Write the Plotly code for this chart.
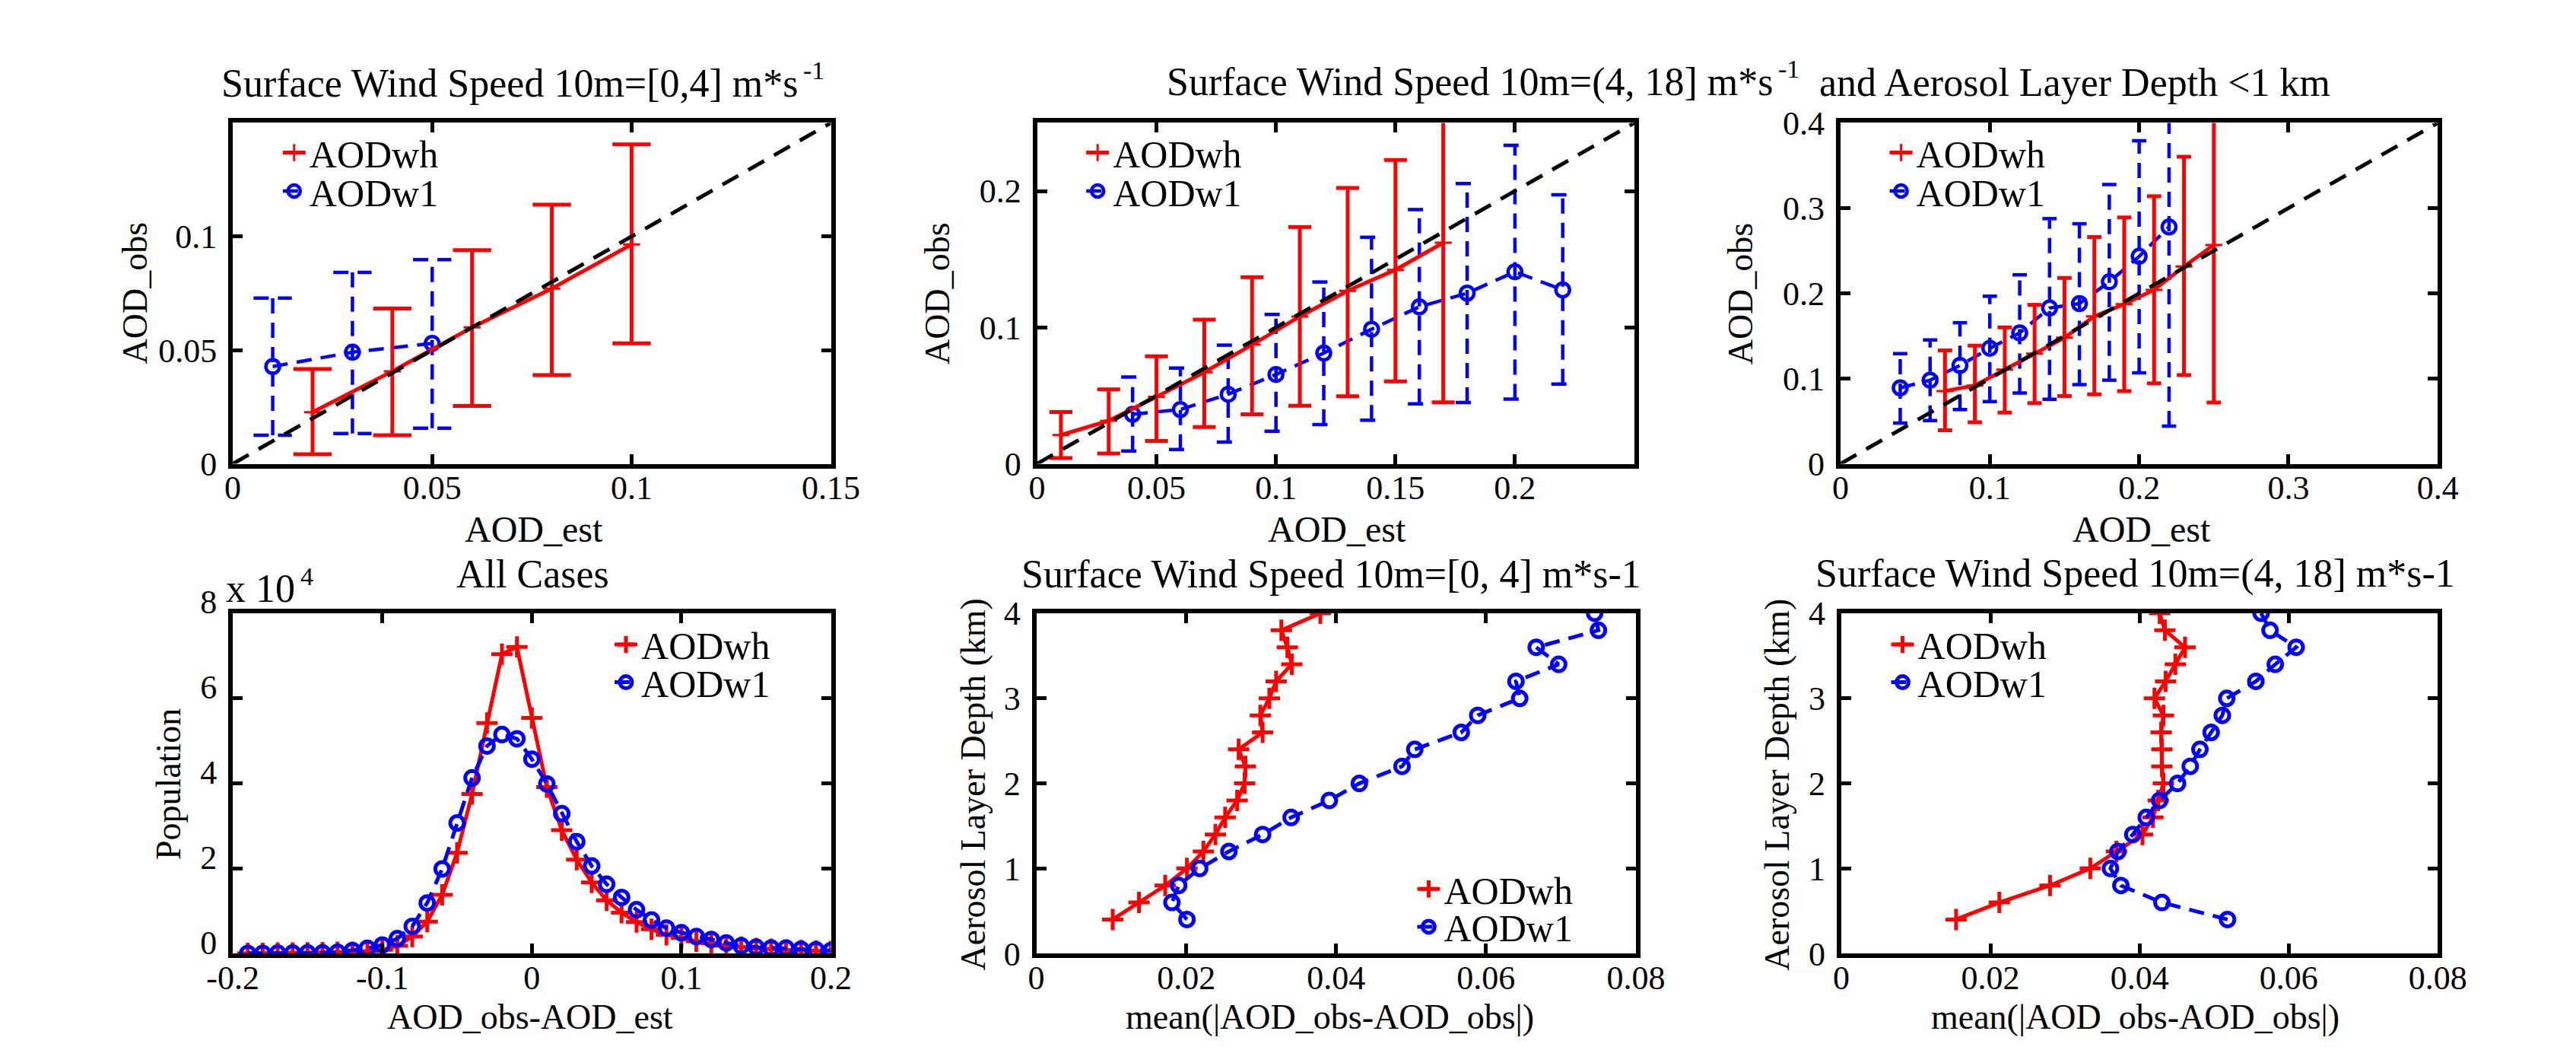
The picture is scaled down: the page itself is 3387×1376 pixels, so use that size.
import plotly.graph_objects as go

W, H = 3387, 1376
FONT = "Liberation Serif, Times New Roman, serif"
RED = "#ff0000"
BLUE = "#0000ff"
TICK_SIZE = 44
XLABEL_SIZE = 48
XLABEL2_SIZE = 46
YLABEL_SIZE = 46
TITLE_SIZE = 52
SUP_SIZE = 34
LEG_SIZE = 50

# ---------------- data ----------------
# Panel 1: wind speed [0,4]
p1_wh_x = [0.02, 0.04, 0.06, 0.08, 0.10]
p1_wh_mean = [0.0227, 0.0407, 0.0600, 0.0771, 0.0965]
p1_wh_lo = [0.0042, 0.0126, 0.0255, 0.0390, 0.0530]
p1_wh_hi = [0.0417, 0.0683, 0.0940, 0.1140, 0.1405]
p1_w1_x = [0.01, 0.03, 0.05]
p1_w1_mean = [0.0428, 0.0491, 0.0530]
p1_w1_lo = [0.0126, 0.0133, 0.0157]
p1_w1_hi = [0.0729, 0.0842, 0.0898]

# Panel 2: wind speed (4,18]
p2_wh_x = [0.01, 0.03, 0.05, 0.07, 0.09, 0.11, 0.13, 0.15, 0.17]
p2_wh_mean = [0.0211, 0.0316, 0.0491, 0.0671, 0.0873, 0.1080, 0.1268, 0.1422, 0.1621]
p2_wh_lo = [0.0042, 0.0075, 0.0168, 0.0269, 0.0363, 0.0426, 0.0496, 0.0604, 0.0451]
p2_wh_hi = [0.0379, 0.0545, 0.0788, 0.1057, 0.1368, 0.1736, 0.2023, 0.2227, 0.2800]
p2_w1_x = [0.04, 0.06, 0.08, 0.10, 0.12, 0.14, 0.16, 0.18, 0.20, 0.22]
p2_w1_mean = [0.0363, 0.0398, 0.0510, 0.0655, 0.0812, 0.0987, 0.1151, 0.1251, 0.1408, 0.1275]
p2_w1_lo = [0.0094, 0.0105, 0.0159, 0.0239, 0.0288, 0.0320, 0.0440, 0.0449, 0.0475, 0.0585]
p2_w1_hi = [0.0636, 0.0702, 0.0870, 0.1095, 0.1333, 0.1661, 0.1864, 0.2054, 0.2335, 0.1972]

# Panel 3: aerosol layer depth < 1 km
p3_wh_x = [0.07, 0.09, 0.11, 0.13, 0.15, 0.17, 0.19, 0.21, 0.23, 0.25]
p3_wh_mean = [0.0854, 0.0918, 0.1105, 0.1292, 0.1479, 0.1730, 0.1873, 0.2041, 0.2315, 0.2566]
p3_wh_lo = [0.0393, 0.0487, 0.0600, 0.0712, 0.0794, 0.0816, 0.0854, 0.0944, 0.1041, 0.0719]
p3_wh_hi = [0.1330, 0.1386, 0.1600, 0.1865, 0.2180, 0.2660, 0.2890, 0.3139, 0.3603, 0.4400]
p3_w1_x = [0.04, 0.06, 0.08, 0.10, 0.12, 0.14, 0.16, 0.18, 0.20, 0.22]
p3_w1_mean = [0.0891, 0.0981, 0.1154, 0.1356, 0.1536, 0.1828, 0.1880, 0.2135, 0.2434, 0.2779]
p3_w1_lo = [0.0479, 0.0506, 0.0637, 0.0730, 0.0831, 0.0757, 0.0929, 0.0981, 0.1067, 0.0442]
p3_w1_hi = [0.1292, 0.1453, 0.1655, 0.1966, 0.2217, 0.2876, 0.2816, 0.3277, 0.3790, 0.4200]

# Panel 4: histogram of AOD_obs - AOD_est (all cases)
p4_bins = [-0.19, -0.18, -0.17, -0.16, -0.15, -0.14, -0.13, -0.12, -0.11, -0.10,
           -0.09, -0.08, -0.07, -0.06, -0.05, -0.04, -0.03, -0.02, -0.01, 0.00,
           0.01, 0.02, 0.03, 0.04, 0.05, 0.06, 0.07, 0.08, 0.09, 0.10,
           0.11, 0.12, 0.13, 0.14, 0.15, 0.16, 0.17, 0.18, 0.19, 0.20]
p4_wh_pop = [50, 50, 100, 100, 150, 200, 300, 300, 500, 900,
             1800, 4000, 7500, 13800, 23700, 37500, 54200, 70400, 72100, 55400,
             39100, 29000, 22100, 16700, 12500, 9600, 7400, 5700, 4400, 3700,
             2900, 2400, 1800, 1500, 1200, 1000, 800, 700, 600, 500]
p4_w1_pop = [50, 50, 100, 100, 150, 150, 300, 700, 1250, 2000,
             3500, 6400, 11900, 19900, 30700, 41300, 48800, 51500, 50500, 45700,
             39900, 32900, 26300, 20600, 16300, 13200, 10300, 7900, 6000, 4900,
             4000, 3300, 2500, 1800, 1500, 1300, 1300, 1000, 900, 700]

# Panels 5 and 6: mean abs difference vs aerosol layer depth
depth_km = [0.4, 0.6, 0.8, 1.0, 1.2, 1.4, 1.6, 1.8, 2.0, 2.2,
            2.4, 2.6, 2.8, 3.0, 3.2, 3.4, 3.6, 3.8, 4.0]
p5_wh = [0.0102, 0.0137, 0.0172, 0.0201, 0.0223, 0.0239, 0.0252, 0.0268, 0.0278, 0.0279,
         0.0270, 0.0302, 0.0299, 0.0311, 0.0320, 0.0341, 0.0335, 0.0327, 0.0379]
p5_w1 = [0.0201, 0.0181, 0.0190, 0.0218, 0.0257, 0.0302, 0.0340, 0.0391, 0.0431, 0.0488,
         0.0505, 0.0567, 0.0589, 0.0645, 0.0640, 0.0697, 0.0667, 0.0750, 0.0745]
p6_wh = [0.0154, 0.0212, 0.0280, 0.0334, 0.0369, 0.0404, 0.0418, 0.0425, 0.0432, 0.0430,
         0.0430, 0.0429, 0.0432, 0.0420, 0.0435, 0.0448, 0.0461, 0.0434, 0.0427]
p6_w1 = [0.0518, 0.0430, 0.0375, 0.0361, 0.0371, 0.0391, 0.0409, 0.0427, 0.0451, 0.0468,
         0.0481, 0.0496, 0.0511, 0.0517, 0.0556, 0.0582, 0.0610, 0.0575, 0.0563]

# axis ranges and ticks
p1_range = [0, 0.15]
p2_range = [0, 0.25]
p3_range = [0, 0.4]
p4_xrange = [-0.2, 0.2]
p4_yrange = [0, 80000]
p56_xrange = [0, 0.08]
p56_yrange = [0, 4]

p1_xticks = [0, 0.05, 0.1, 0.15]; p1_xlabels = ["0", "0.05", "0.1", "0.15"]
p1_yticks = [0, 0.05, 0.1]; p1_ylabels = ["0", "0.05", "0.1"]
p2_xticks = [0, 0.05, 0.1, 0.15, 0.2]; p2_xlabels = ["0", "0.05", "0.1", "0.15", "0.2"]
p2_yticks = [0, 0.1, 0.2]; p2_ylabels = ["0", "0.1", "0.2"]
p3_ticks = [0, 0.1, 0.2, 0.3, 0.4]; p3_labels = ["0", "0.1", "0.2", "0.3", "0.4"]
p4_xticks = [-0.2, -0.1, 0, 0.1, 0.2]; p4_xlabels = ["-0.2", "-0.1", "0", "0.1", "0.2"]
p4_yticks = [0, 20000, 40000, 60000, 80000]; p4_ylabels = ["0", "2", "4", "6", "8"]
p56_xticks = [0, 0.02, 0.04, 0.06, 0.08]; p56_xlabels = ["0", "0.02", "0.04", "0.06", "0.08"]
p56_yticks = [0, 1, 2, 3, 4]; p56_ylabels = ["0", "1", "2", "3", "4"]

# ---------------- layout geometry (pixels) ----------------
BOX = {
    1: (269, 1073, 120, 590),
    2: (1350, 2153, 120, 590),
    3: (2430, 3233, 120, 590),
    4: (269, 1073, 796, 1265),
    5: (1349, 2155, 796, 1265),
    6: (2431, 3233, 796, 1265),
}


def fx(px):
    return px / W


def fy(py):
    return 1 - py / H


def err_segments(xs, lo, hi, cap):
    X, Y = [], []
    for x, l, h in zip(xs, lo, hi):
        X += [x, x, None, x - cap, x + cap, None, x - cap, x + cap, None]
        Y += [l, h, None, l, l, None, h, h, None]
    return X, Y


fig = go.Figure()

CAP = 0.0048
BLUE_DASH = "20px,12px"
DIAG_DASH = "24px,15px"


def add_scatter_panel(i, wh_x, wh_m, wh_lo, wh_hi, w1_x, w1_m, w1_lo, w1_hi, rng, leg_wh, leg_w1):
    xa = "x" if i == 1 else f"x{i}"
    ya = "y" if i == 1 else f"y{i}"
    # blue dashed error bars
    ex, ey = err_segments(w1_x, w1_lo, w1_hi, CAP)
    fig.add_trace(go.Scatter(x=ex, y=ey, mode="lines", xaxis=xa, yaxis=ya, showlegend=False,
                             line=dict(color=BLUE, width=4.5, dash=BLUE_DASH), hoverinfo="skip"))
    fig.add_trace(go.Scatter(x=w1_x, y=w1_m, mode="lines+markers", name="AODw1", xaxis=xa, yaxis=ya,
                             legend=leg_w1,
                             line=dict(color=BLUE, width=4.5, dash=BLUE_DASH),
                             marker=dict(symbol="circle-open", size=18, color=BLUE,
                                         line=dict(color=BLUE, width=4.5))))
    # red solid error bars
    rx, ry = err_segments(wh_x, wh_lo, wh_hi, CAP)
    fig.add_trace(go.Scatter(x=rx, y=ry, mode="lines", xaxis=xa, yaxis=ya, showlegend=False,
                             line=dict(color=RED, width=5), hoverinfo="skip"))
    fig.add_trace(go.Scatter(x=wh_x, y=wh_m, mode="lines+markers", name="AODwh", xaxis=xa, yaxis=ya,
                             legend=leg_wh,
                             line=dict(color=RED, width=5),
                             marker=dict(symbol="cross-thin", size=16, color=RED,
                                         line=dict(color=RED, width=3))))
    # 1:1 line
    fig.add_trace(go.Scatter(x=rng, y=rng, mode="lines", xaxis=xa, yaxis=ya, showlegend=False,
                             line=dict(color="black", width=5, dash=DIAG_DASH), hoverinfo="skip"))


add_scatter_panel(1, p1_wh_x, p1_wh_mean, p1_wh_lo, p1_wh_hi,
                  p1_w1_x, p1_w1_mean, p1_w1_lo, p1_w1_hi, p1_range, "legend", "legend2")
add_scatter_panel(2, p2_wh_x, p2_wh_mean, p2_wh_lo, p2_wh_hi,
                  p2_w1_x, p2_w1_mean, p2_w1_lo, p2_w1_hi, p2_range, "legend3", "legend4")
add_scatter_panel(3, p3_wh_x, p3_wh_mean, p3_wh_lo, p3_wh_hi,
                  p3_w1_x, p3_w1_mean, p3_w1_lo, p3_w1_hi, p3_range, "legend5", "legend6")


def add_line_pair(i, wh_x, wh_y, w1_x, w1_y, leg_wh, leg_w1):
    xa = f"x{i}"
    ya = f"y{i}"
    fig.add_trace(go.Scatter(x=wh_x, y=wh_y, mode="lines+markers", name="AODwh", xaxis=xa, yaxis=ya,
                             legend=leg_wh,
                             line=dict(color=RED, width=5),
                             marker=dict(symbol="cross-thin", size=20, color=RED,
                                         line=dict(color=RED, width=5))))
    fig.add_trace(go.Scatter(x=w1_x, y=w1_y, mode="lines+markers", name="AODw1", xaxis=xa, yaxis=ya,
                             legend=leg_w1,
                             line=dict(color=BLUE, width=5, dash=BLUE_DASH),
                             marker=dict(symbol="circle-open", size=18, color=BLUE,
                                         line=dict(color=BLUE, width=5))))


add_line_pair(4, p4_bins, p4_wh_pop, p4_bins, p4_w1_pop, "legend7", "legend8")
add_line_pair(5, p5_wh, depth_km, p5_w1, depth_km, "legend9", "legend10")
add_line_pair(6, p6_wh, depth_km, p6_w1, depth_km, "legend11", "legend12")


def axis_common(tickvals, ticktext, rng, dom, anchor, standoff):
    return dict(
        domain=dom, range=rng, anchor=anchor, tickmode="array", tickvals=tickvals, ticktext=ticktext,
        showline=True, linecolor="black", linewidth=6, mirror="ticks",
        ticks="inside", ticklen=13, tickwidth=5, tickcolor="black",
        showgrid=False, zeroline=False, ticklabelstandoff=standoff,
        tickfont=dict(family=FONT, size=TICK_SIZE, color="black"),
    )


axes_spec = {
    1: (p1_xticks, p1_xlabels, p1_range, p1_yticks, p1_ylabels, p1_range),
    2: (p2_xticks, p2_xlabels, p2_range, p2_yticks, p2_ylabels, p2_range),
    3: (p3_ticks, p3_labels, p3_range, p3_ticks, p3_labels, p3_range),
    4: (p4_xticks, p4_xlabels, p4_xrange, p4_yticks, p4_ylabels, p4_yrange),
    5: (p56_xticks, p56_xlabels, p56_xrange, p56_yticks, p56_ylabels, p56_yrange),
    6: (p56_xticks, p56_xlabels, p56_xrange, p56_yticks, p56_ylabels, p56_yrange),
}

layout_axes = {}
for i, (xt, xl, xr, yt, yl, yr) in axes_spec.items():
    l, r, t, b = BOX[i]
    xname = "xaxis" if i == 1 else f"xaxis{i}"
    yname = "yaxis" if i == 1 else f"yaxis{i}"
    xid = "x" if i == 1 else f"x{i}"
    yid = "y" if i == 1 else f"y{i}"
    layout_axes[xname] = axis_common(xt, xl, xr, [fx(l), fx(r)], yid, -12)
    layout_axes[yname] = axis_common(yt, yl, yr, [fy(b), fy(t)], xid, 6)

# lift the population tick labels a little so the "0" clears the "-0.2" below it
layout_axes["yaxis4"]["ticklabelshift"] = -15

fig.update_layout(**layout_axes)

# one legend per entry so each row sits where the reference puts it
LEG_TEXT_OFFSET = 76


def legend_at(text_x, row_y):
    return dict(x=fx(text_x - LEG_TEXT_OFFSET), y=fy(row_y), xanchor="left", yanchor="middle",
                bgcolor="rgba(0,0,0,0)", font=dict(family=FONT, size=LEG_SIZE, color="black"))


legend_rows = [
    (407, 161), (407, 214),
    (1487, 161), (1487, 214),
    (2567, 161), (2567, 214),
    (853, 839), (853, 891),
    (1932, 1176), (1932, 1228),
    (2569, 839), (2569, 891),
]
legend_layout = {}
for k, (tx, ty) in enumerate(legend_rows):
    name = "legend" if k == 0 else f"legend{k + 1}"
    legend_layout[name] = legend_at(tx, ty)
fig.update_layout(**legend_layout)

annotations = []


def text(s, px, py, size, angle=0, xanchor="center", yanchor="middle"):
    annotations.append(dict(text=s, x=fx(px), y=fy(py), xref="paper", yref="paper",
                            xanchor=xanchor, yanchor=yanchor, showarrow=False, textangle=angle,
                            font=dict(family=FONT, size=size, color="black")))


# titles (superscripts drawn as their own small raised texts, joined at a shared x)
SUP_GAP = 3
SUP_W = 29          # approx. width of the "-1" superscript
SUP_RAISE = 18
t1_join = 1031
text("Surface Wind Speed 10m=[0,4] m*s", t1_join, 66, TITLE_SIZE, xanchor="right")
text("-1", t1_join + SUP_GAP, 66 - SUP_RAISE, SUP_SIZE, xanchor="left")

t2_join = 2341
text("Surface Wind Speed 10m=(4, 18] m*s", t2_join, 64, TITLE_SIZE, xanchor="right")
text("-1", t2_join + SUP_GAP, 64 - SUP_RAISE, SUP_SIZE, xanchor="left")
text("and Aerosol Layer Depth &lt;1 km", t2_join + SUP_GAP + SUP_W + 26, 64, TITLE_SIZE, xanchor="left")

text("All Cases", 672, 742, TITLE_SIZE)
text("Surface Wind Speed 10m=[0, 4] m*s-1", 1746, 742, TITLE_SIZE)
text("Surface Wind Speed 10m=(4, 18] m*s-1", 2826, 742, TITLE_SIZE)

# x labels
text("AOD_est", 674, 680, XLABEL_SIZE)
text("AOD_est", 1753, 680, XLABEL_SIZE)
text("AOD_est", 2835, 680, XLABEL_SIZE)
text("AOD_obs-AOD_est", 669, 1352, XLABEL2_SIZE)
text("mean(|AOD_obs-AOD_obs|)", 1744, 1352, XLABEL2_SIZE)
text("mean(|AOD_obs-AOD_obs|)", 2826, 1352, XLABEL2_SIZE)

# y labels
text("AOD_obs", 137, 355, YLABEL_SIZE, angle=-90)
text("AOD_obs", 1216, 355, YLABEL_SIZE, angle=-90)
text("AOD_obs", 2296, 355, YLABEL_SIZE, angle=-90)
text("Population", 182, 1032, YLABEL_SIZE, angle=-90)
text("Aerosol Layer Depth (km)", 1264, 1032, YLABEL_SIZE, angle=-90)
text("Aerosol Layer Depth (km)", 2344, 1032, YLABEL_SIZE, angle=-90)

# exponent label "x 10^4"
exp_join = 355
text("x 10", exp_join, 762, 52, xanchor="right")
text("4", exp_join + SUP_GAP, 762 - 17, SUP_SIZE, xanchor="left")

fig.update_layout(
    annotations=annotations,
    width=W, height=H, autosize=False,
    margin=dict(l=0, r=0, t=0, b=0, pad=0),
    paper_bgcolor="white", plot_bgcolor="white",
    font=dict(family=FONT, color="black"),
)

fig.write_html("out.html")
